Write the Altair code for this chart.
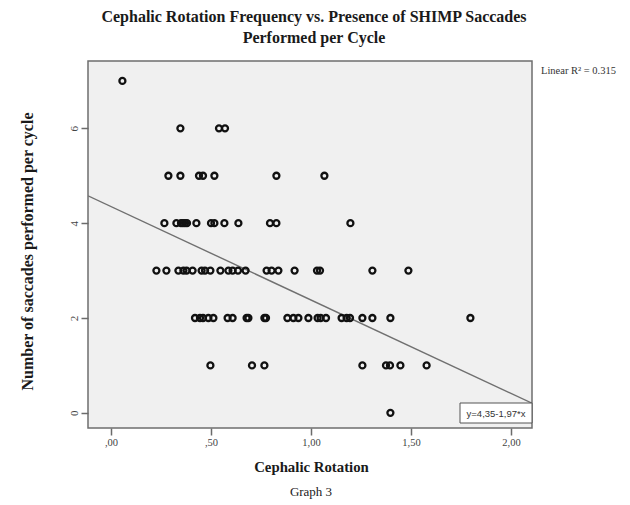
import altair as alt
import pandas as pd

# Cephalic rotation values, grouped by number of saccades performed per cycle
rot_sac7 = [0.057]
rot_sac6 = [0.347, 0.54, 0.57]
rot_sac5 = [0.287, 0.347, 0.44, 0.46, 0.517, 0.827, 1.067]
rot_sac4 = [0.267, 0.327, 0.35, 0.36, 0.37, 0.38, 0.427, 0.50, 0.517, 0.567,
            0.637, 0.795, 0.827, 1.197]
rot_sac3 = [0.227, 0.277, 0.337, 0.362, 0.378, 0.408, 0.453, 0.47, 0.497,
            0.547, 0.587, 0.608, 0.635, 0.673, 0.778, 0.803, 0.837, 0.918,
            1.03, 1.045, 1.307, 1.487]
rot_sac2 = [0.42, 0.445, 0.46, 0.487, 0.512, 0.583, 0.608, 0.678, 0.687,
            0.767, 0.775, 0.882, 0.912, 0.937, 0.987, 1.033, 1.048, 1.075,
            1.153, 1.178, 1.195, 1.257, 1.307, 1.397, 1.797]
rot_sac1 = [0.497, 0.705, 0.767, 1.257, 1.375, 1.395, 1.447, 1.578]
rot_sac0 = [1.397]

# Fit line as reported: y = 4.35 - 1.97 x
fit_intercept = 4.35
fit_slope = -1.97
r_squared = 0.315

x_domain = [-0.115, 2.105]
y_domain = [-0.32, 7.42]
x_ticks = [0, 0.5, 1.0, 1.5, 2.0]
y_ticks = [0, 2, 4, 6]

groups = {7: rot_sac7, 6: rot_sac6, 5: rot_sac5, 4: rot_sac4,
          3: rot_sac3, 2: rot_sac2, 1: rot_sac1, 0: rot_sac0}
rows = []
for sac, xs in groups.items():
    for xv in xs:
        rows.append({"rotation": xv, "saccades": sac})
points_df = pd.DataFrame(rows)

line_df = pd.DataFrame({
    "rotation": x_domain,
    "saccades": [fit_intercept + fit_slope * v for v in x_domain],
})

xscale = alt.Scale(domain=x_domain, nice=False, zero=False)
yscale = alt.Scale(domain=y_domain, nice=False, zero=False)

serif = "Liberation Serif"
tick_col = "#6b6b6b"
label_col = "#444444"

x_axis = alt.Axis(
    values=x_ticks, grid=False, domain=False, tickColor=tick_col, tickSize=7,
    tickWidth=1.5,
    labelFont=serif, labelFontSize=10.5, labelColor=label_col, labelPadding=2,
    labelExpr="datum.value < 1 ? ',' + format(datum.value*100, '02d') : replace(format(datum.value, '.2f'), '.', ',')",
    title="Cephalic Rotation", titleFont=serif, titleFontSize=14.8,
    titleFontWeight="bold", titleColor="#1a1a1a", titleX=223, titleY=39,
    titleBaseline="middle", titleAlign="center",
)
y_axis = alt.Axis(
    values=y_ticks, grid=False, domain=False, tickColor=tick_col, tickSize=7,
    tickWidth=1.5,
    labelFont=serif, labelFontSize=11, labelColor=label_col, labelPadding=2,
    labelAngle=270, labelAlign="center", labelBaseline="bottom",
    title="Number of saccades performed per cycle", titleFont=serif,
    titleFontSize=16, titleFontWeight="bold", titleColor="#1a1a1a",
    titleAngle=270, titleX=-61, titleY=190, titleAlign="center",
    titleBaseline="middle",
)

points = alt.Chart(points_df).mark_point(
    shape="circle", filled=False, color="#111111", strokeWidth=2.3, size=36,
    opacity=1,
).encode(
    x=alt.X("rotation:Q", scale=xscale, axis=x_axis),
    y=alt.Y("saccades:Q", scale=yscale, axis=y_axis),
)

fit = alt.Chart(line_df).mark_line(color="#707070", strokeWidth=1.4, clip=True).encode(
    x=alt.X("rotation:Q", scale=xscale),
    y=alt.Y("saccades:Q", scale=yscale),
)

eq_df = pd.DataFrame({"label": [f"y={fit_intercept:.2f}".replace(".", ",") + f"{fit_slope:.2f}".replace(".", ",") + "*x"]})
eq_box = alt.Chart(eq_df).mark_rect(fill="white", stroke="#555555", strokeWidth=1).encode(
    x=alt.value(372), x2=alt.value(444), y=alt.value(342), y2=alt.value(362),
)
eq_text = alt.Chart(eq_df).mark_text(
    font="Liberation Sans", fontSize=9.5, color="#333333", align="center",
    baseline="middle",
).encode(x=alt.value(408), y=alt.value(352.5), text="label:N")

r2_df = pd.DataFrame({"label": [f"Linear R\u00b2 = {r_squared:.3f}"]})
r2_text = alt.Chart(r2_df).mark_text(
    font=serif, fontSize=10.5, color="#333333", align="left", baseline="middle",
).encode(x=alt.value(453), y=alt.value(10), text="label:N")

cap_df = pd.DataFrame({"label": ["Graph 3"]})
cap_text = alt.Chart(cap_df).mark_text(
    font=serif, fontSize=13, color="#222222", align="center", baseline="middle",
).encode(x=alt.value(223), y=alt.value(431), text="label:N")

chart = alt.layer(fit, points, eq_box, eq_text, r2_text, cap_text).properties(
    width=444, height=367,
    title=alt.TitleParams(
        ["Cephalic Rotation Frequency vs. Presence of SHIMP Saccades",
         "Performed per Cycle"],
        font=serif, fontSize=16, fontWeight="bold", color="#1a1a1a",
        anchor="middle", dx=4, offset=15, lineHeight=21,
    ),
    background="white",
    padding={"left": 88, "top": 61, "right": 98, "bottom": 77},
    autosize=alt.AutoSizeParams(type="none"),
).configure_view(
    fill="#f0f0f0", stroke="#6e6e6e", strokeWidth=1.5,
)

chart.save("out.html", embed_options={"renderer": "svg", "actions": False})
